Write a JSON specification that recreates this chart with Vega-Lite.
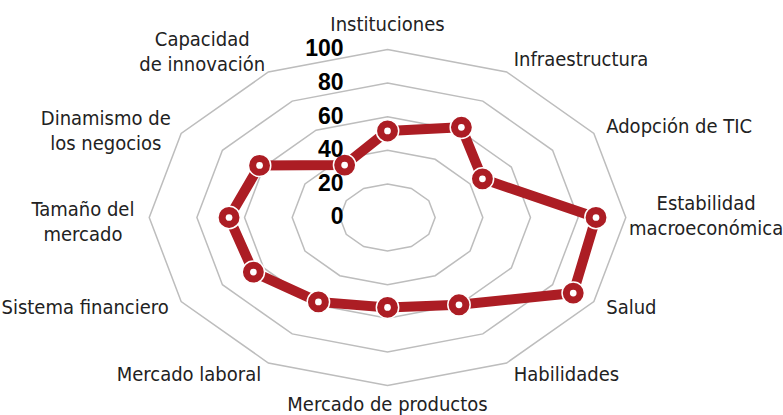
{
  "$schema": "https://vega.github.io/schema/vega-lite/v6.json",
  "width": 783,
  "height": 415,
  "autosize": {"type": "fit", "contains": "padding"},
  "padding": 0,
  "background": "white",
  "config": {"view": {"stroke": null}},
  "datasets": {
    "scores": [
      {"axis": "Instituciones", "value": 51.5},
      {"axis": "Infraestructura", "value": 62},
      {"axis": "Adopción de TIC", "value": 46},
      {"axis": "Estabilidad\nmacroeconómica", "value": 87.5},
      {"axis": "Salud", "value": 90},
      {"axis": "Habilidades", "value": 60},
      {"axis": "Mercado de productos", "value": 53.5},
      {"axis": "Mercado laboral", "value": 58},
      {"axis": "Sistema financiero", "value": 65},
      {"axis": "Tamaño del\nmercado", "value": 66.5},
      {"axis": "Dinamismo de\nlos negocios", "value": 62},
      {"axis": "Capacidad\nde innovación", "value": 36}
    ],
    "ticks": [
      {"level": 0}, {"level": 20}, {"level": 40}, {"level": 60}, {"level": 80}, {"level": 100}
    ]
  },
  "layer": [
    {
      "data": {"name": "scores"},
      "transform": [
        {"window": [{"op": "row_number", "as": "idx"}]},
        {"calculate": "(datum.idx-1)*PI/6", "as": "ang"},
        {"calculate": "20", "as": "r20"},
        {"calculate": "40", "as": "r40"},
        {"calculate": "60", "as": "r60"},
        {"calculate": "80", "as": "r80"},
        {"calculate": "100", "as": "r100"},
        {"fold": ["r20", "r40", "r60", "r80", "r100"], "as": ["ring", "lvl"]},
        {"calculate": "datum.lvl*sin(datum.ang)", "as": "px"},
        {"calculate": "datum.lvl*cos(datum.ang)", "as": "py"}
      ],
      "mark": {"type": "line", "interpolate": "linear-closed", "color": "#BDBDBD", "strokeWidth": 1.5},
      "encoding": {
        "x": {"field": "px", "type": "quantitative", "scale": {"domain": [-162.63, 164.3], "nice": false, "zero": false}, "axis": null},
        "y": {"field": "py", "type": "quantitative", "scale": {"domain": [-117.56, 129.46], "nice": false, "zero": false}, "axis": null},
        "detail": {"field": "ring"},
        "order": {"field": "idx", "type": "quantitative"}
      }
    },
    {
      "data": {"name": "scores"},
      "transform": [
        {"window": [{"op": "row_number", "as": "idx"}]},
        {"calculate": "(datum.idx-1)*PI/6", "as": "ang"},
        {"calculate": "datum.value*sin(datum.ang)", "as": "px"},
        {"calculate": "datum.value*cos(datum.ang)", "as": "py"}
      ],
      "layer": [
        {
          "mark": {"type": "line", "interpolate": "linear-closed", "color": "#AC1D24", "strokeWidth": 10},
          "encoding": {"order": {"field": "idx", "type": "quantitative"}}
        },
        {
          "mark": {"type": "point", "shape": "circle", "filled": true, "size": 500, "fill": "#AC1D24", "stroke": "white", "strokeWidth": 1.5, "opacity": 1}
        },
        {
          "mark": {"type": "circle", "size": 45, "color": "white", "opacity": 1}
        }
      ],
      "encoding": {
        "x": {"field": "px", "type": "quantitative", "scale": {"domain": [-162.63, 164.3], "nice": false, "zero": false}, "axis": null},
        "y": {"field": "py", "type": "quantitative", "scale": {"domain": [-117.56, 129.46], "nice": false, "zero": false}, "axis": null}
      }
    },
    {
      "data": {"name": "ticks"},
      "mark": {"type": "text", "align": "right", "baseline": "middle", "dx": -44, "font": "Liberation Sans", "fontWeight": "bold", "fontSize": 23, "color": "#000000"},
      "encoding": {
        "x": {"datum": 0, "type": "quantitative"},
        "y": {"field": "level", "type": "quantitative"},
        "text": {"field": "level", "type": "quantitative"}
      }
    },
    {
      "data": {"name": "scores"},
      "transform": [
        {"window": [{"op": "row_number", "as": "idx"}]},
        {"calculate": "(datum.idx-1)*PI/6", "as": "ang"},
        {"calculate": "106*sin(datum.ang)", "as": "lx"},
        {"calculate": "108*cos(datum.ang)", "as": "ly"}
      ],
      "encoding": {
        "x": {"field": "lx", "type": "quantitative"},
        "y": {"field": "ly", "type": "quantitative"},
        "text": {"field": "axis"}
      },
      "layer": [
        {
          "transform": [{"filter": "indexof([2,3,5,6], datum.idx) >= 0"}],
          "mark": {"type": "text", "align": "left", "baseline": "middle", "font": "DejaVu Sans Condensed", "fontSize": 20, "color": "#222222", "lineBreak": "\n"}
        },
        {
          "transform": [{"filter": "indexof([8,9], datum.idx) >= 0"}],
          "mark": {"type": "text", "align": "right", "baseline": "middle", "font": "DejaVu Sans Condensed", "fontSize": 20, "color": "#222222", "lineBreak": "\n"}
        },
        {
          "transform": [{"filter": "datum.idx == 1"}],
          "mark": {"type": "text", "align": "center", "baseline": "middle", "dy": -11, "font": "DejaVu Sans Condensed", "fontSize": 20, "color": "#222222", "lineBreak": "\n"}
        },
        {
          "transform": [{"filter": "datum.idx == 7"}],
          "mark": {"type": "text", "align": "center", "baseline": "middle", "dy": 6, "font": "DejaVu Sans Condensed", "fontSize": 20, "color": "#222222", "lineBreak": "\n"}
        },
        {
          "transform": [{"filter": "datum.idx == 4"}],
          "mark": {"type": "text", "align": "center", "baseline": "middle", "dx": 66, "dy": -13, "lineHeight": 25, "font": "DejaVu Sans Condensed", "fontSize": 20, "color": "#222222", "lineBreak": "\n"}
        },
        {
          "transform": [{"filter": "datum.idx == 10"}],
          "mark": {"type": "text", "align": "center", "baseline": "middle", "dx": -52, "dy": -7.5, "lineHeight": 25, "font": "DejaVu Sans Condensed", "fontSize": 20, "color": "#222222", "lineBreak": "\n"}
        },
        {
          "transform": [{"filter": "datum.idx == 11"}],
          "mark": {"type": "text", "align": "center", "baseline": "middle", "dx": -63, "dy": -8, "lineHeight": 25, "font": "DejaVu Sans Condensed", "fontSize": 20, "color": "#222222", "lineBreak": "\n"}
        },
        {
          "transform": [{"filter": "datum.idx == 12"}],
          "mark": {"type": "text", "align": "center", "baseline": "middle", "dx": -59, "dy": -20.5, "lineHeight": 25, "font": "DejaVu Sans Condensed", "fontSize": 20, "color": "#222222", "lineBreak": "\n"}
        }
      ]
    }
  ]
}
